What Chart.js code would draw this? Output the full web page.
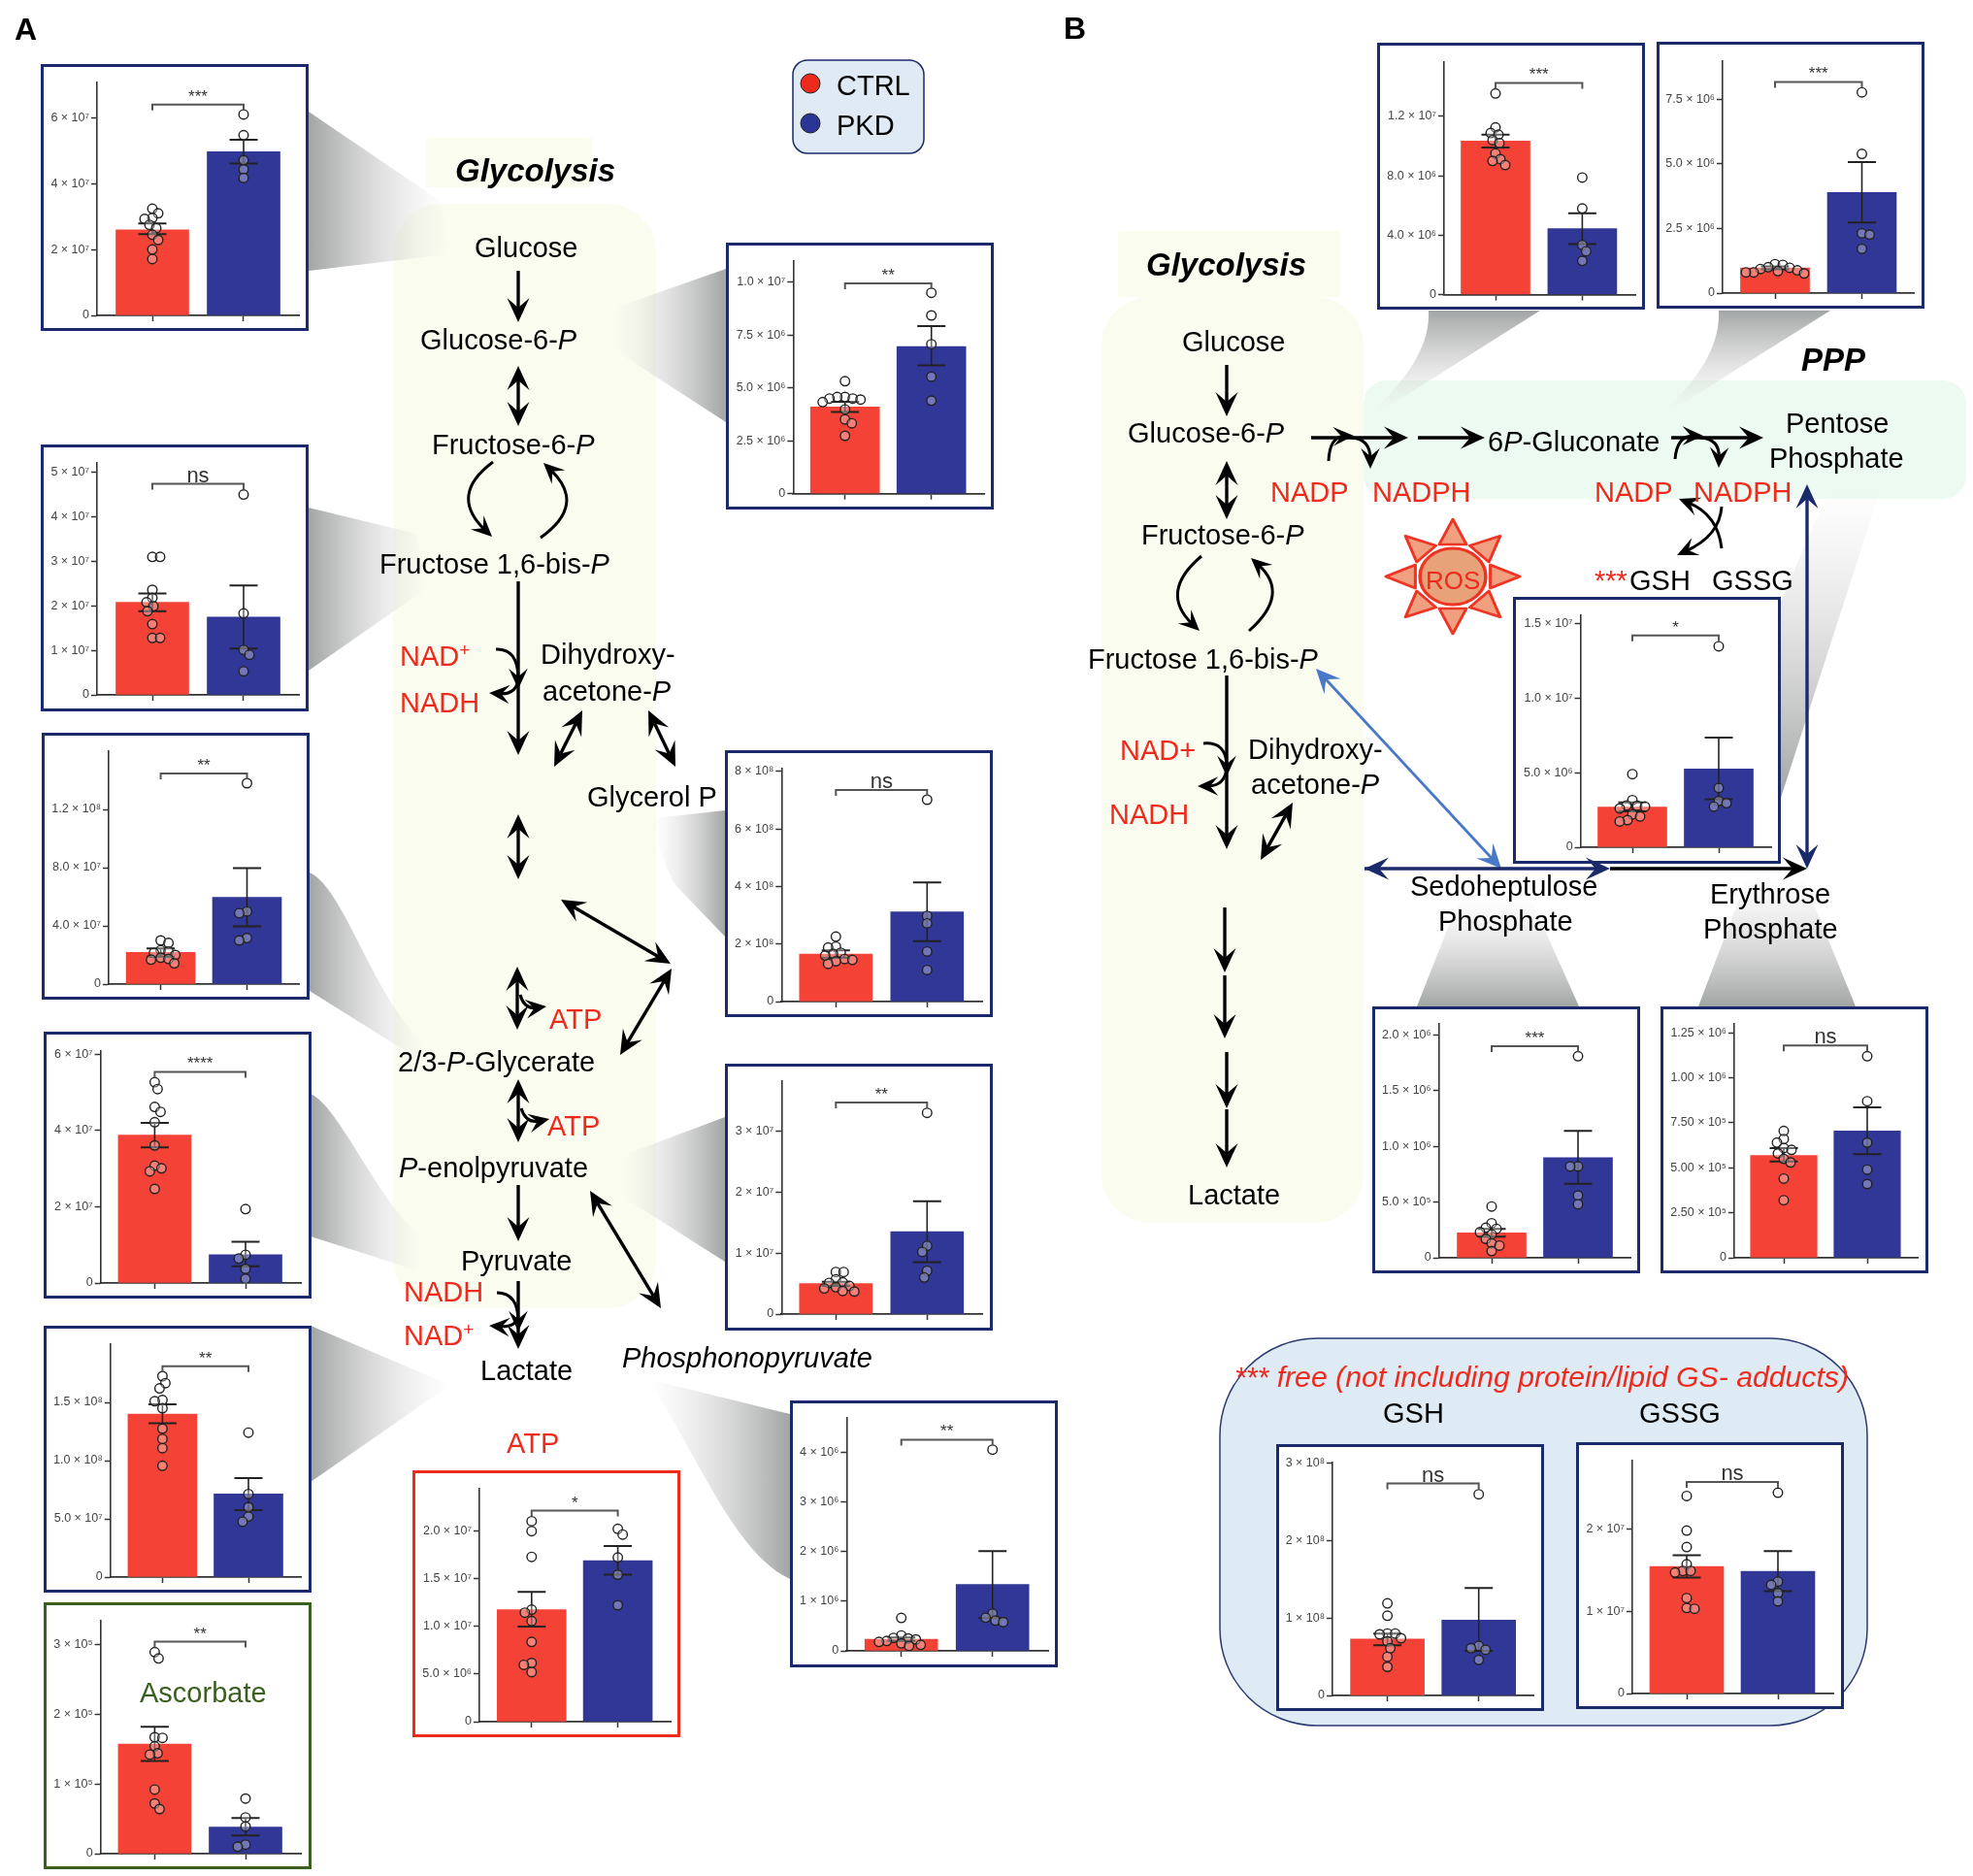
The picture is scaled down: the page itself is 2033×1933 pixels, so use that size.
<!DOCTYPE html>
<html>
<head>
<meta charset="utf-8">
<title>Glycolysis and PPP metabolites</title>
<script src="https://cdn.jsdelivr.net/npm/chart.js@4"></script>
<style>
  html, body { margin: 0; padding: 0; background: #fff; }
  #page { position: relative; width: 2033px; height: 1933px; overflow: hidden; font-family: "Liberation Sans", Arial, sans-serif; }
  #page svg { position: absolute; left: 0; top: 0; }
  #front { z-index: 5; pointer-events: none; }
  .frame { position: absolute; box-sizing: border-box; width: 276px; height: 275px; background: #fff; border: 3px solid #1b2a6b; z-index: 2; }
  canvas { position: absolute; z-index: 3; }
</style>
</head>
<body>
<div id="page">
  <svg id="back" width="2033" height="1933"></svg>
  <svg id="front" width="2033" height="1933"></svg>
</div>
<script>
'use strict';

// DATA

const groups = ['CTRL', 'PKD'];

const glucoseCtrl = [3.24e7, 3.1e7, 2.96e7, 2.93e7, 2.75e7, 2.65e7, 2.45e7, 2.29e7, 2.0e7, 1.71e7];
const glucosePkd = [6.1e7, 5.47e7, 4.71e7, 4.43e7, 4.17e7];
const glucoseMeans = [2.6e7, 4.97e7];
const glucoseErr = [[2.47e7, 2.79e7], [4.61e7, 5.33e7]];
const glucoseTicks = [0, 2e7, 4e7, 6e7];
const glucoseLabels = ['0', '2 × 10⁷', '4 × 10⁷', '6 × 10⁷'];

const fbpCtrl = [3.1e7, 3.1e7, 2.36e7, 2.18e7, 2.08e7, 1.99e7, 1.88e7, 1.59e7, 1.28e7, 1.28e7];
const fbpPkd = [4.5e7, 1.83e7, 1.01e7, 0.9e7, 0.53e7];
const fbpMeans = [2.08e7, 1.75e7];
const fbpErr = [[1.88e7, 2.28e7], [1.04e7, 2.46e7]];
const fbpTicks = [0, 1e7, 2e7, 3e7, 4e7, 5e7];
const fbpLabels = ['0', '1 × 10⁷', '2 × 10⁷', '3 × 10⁷', '4 × 10⁷', '5 × 10⁷'];

const pgCtrl = [3.0e7, 2.83e7, 2.32e7, 2.24e7, 2.14e7, 2.0e7, 1.81e7, 1.73e7, 1.68e7, 1.43e7];
const pgPkd = [13.8e7, 4.99e7, 4.87e7, 3.16e7, 3.0e7];
const pgMeans = [2.17e7, 5.96e7];
const pgErr = [[1.89e7, 2.45e7], [3.97e7, 7.97e7]];
const pgTicks = [0, 4e7, 8e7, 1.2e8];
const pgLabels = ['0', '4.0 × 10⁷', '8.0 × 10⁷', '1.2 × 10⁸'];

const pyruvateCtrl = [5.27e7, 5.09e7, 4.62e7, 4.49e7, 4.22e7, 3.61e7, 3.08e7, 3.01e7, 2.93e7, 2.47e7];
const pyruvatePkd = [1.94e7, 0.74e7, 0.64e7, 0.37e7, 0.11e7];
const pyruvateMeans = [3.88e7, 0.74e7];
const pyruvateErr = [[3.56e7, 4.2e7], [0.44e7, 1.08e7]];
const pyruvateTicks = [0, 2e7, 4e7, 6e7];
const pyruvateLabels = ['0', '2 × 10⁷', '4 × 10⁷', '6 × 10⁷'];

const lactateCtrl = [17.25e7, 16.65e7, 16.2e7, 15.2e7, 15.1e7, 14.5e7, 12.75e7, 11.86e7, 11.07e7, 9.56e7];
const lactatePkd = [12.4e7, 7.13e7, 6.0e7, 5.2e7, 4.76e7];
const lactateMeans = [14.0e7, 7.13e7];
const lactateErr = [[13.2e7, 14.83e7], [5.74e7, 8.5e7]];
const lactateTicks = [0, 5e7, 1e8, 1.5e8];
const lactateLabels = ['0', '5.0 × 10⁷', '1.0 × 10⁸', '1.5 × 10⁸'];

const ascorbateCtrl = [2.89e5, 2.8e5, 1.67e5, 1.66e5, 1.54e5, 1.44e5, 1.42e5, 0.92e5, 0.72e5, 0.64e5];
const ascorbatePkd = [0.79e5, 0.52e5, 0.39e5, 0.13e5, 0.1e5];
const ascorbateMeans = [1.57e5, 0.38e5];
const ascorbateErr = [[1.33e5, 1.82e5], [0.26e5, 0.51e5]];
const ascorbateTicks = [0, 1e5, 2e5, 3e5];
const ascorbateLabels = ['0', '1 × 10⁵', '2 × 10⁵', '3 × 10⁵'];

const atpCtrl = [21.0e6, 19.96e6, 17.27e6, 11.73e6, 11.42e6, 10.54e6, 8.35e6, 6.15e6, 5.96e6, 5.19e6];
const atpPkd = [20.2e6, 19.6e6, 17.2e6, 15.4e6, 12.2e6];
const atpMeans = [11.73e6, 16.88e6];
const atpErr = [[9.96e6, 13.6e6], [15.4e6, 18.4e6]];
const atpTicks = [0, 5e6, 1e7, 1.5e7, 2e7];
const atpLabels = ['0', '5.0 × 10⁶', '1.0 × 10⁷', '1.5 × 10⁷', '2.0 × 10⁷'];

const g6pCtrl = [5.32e6, 4.57e6, 4.57e6, 4.5e6, 4.5e6, 4.45e6, 4.33e6, 3.98e6, 3.51e6, 3.33e6, 2.74e6];
const g6pPkd = [9.5e6, 8.43e6, 7.07e6, 5.53e6, 4.4e6];
const g6pMeans = [4.1e6, 6.96e6];
const g6pErr = [[3.86e6, 4.35e6], [6.07e6, 7.92e6]];
const g6pTicks = [0, 2.5e6, 5e6, 7.5e6, 1e7];
const g6pLabels = ['0', '2.5 × 10⁶', '5.0 × 10⁶', '7.5 × 10⁶', '1.0 × 10⁷'];

const glycerolCtrl = [2.26e8, 1.91e8, 1.88e8, 1.7e8, 1.66e8, 1.6e8, 1.48e8, 1.45e8, 1.4e8, 1.31e8];
const glycerolPkd = [7.02e8, 2.98e8, 2.72e8, 1.74e8, 1.1e8];
const glycerolMeans = [1.655e8, 3.12e8];
const glycerolErr = [[1.53e8, 1.78e8], [2.1e8, 4.14e8]];
const glycerolTicks = [0, 2e8, 4e8, 6e8, 8e8];
const glycerolLabels = ['0', '2 × 10⁸', '4 × 10⁸', '6 × 10⁸', '8 × 10⁸'];

const pepCtrl = [0.69e7, 0.69e7, 0.57e7, 0.52e7, 0.51e7, 0.46e7, 0.44e7, 0.42e7, 0.38e7, 0.37e7];
const pepPkd = [3.3e7, 1.12e7, 1.02e7, 0.71e7, 0.6e7];
const pepMeans = [0.5e7, 1.35e7];
const pepErr = [[0.46e7, 0.53e7], [0.85e7, 1.85e7]];
const pepTicks = [0, 1e7, 2e7, 3e7];
const pepLabels = ['0', '1 × 10⁷', '2 × 10⁷', '3 × 10⁷'];

const phosphonoCtrl = [0.665e6, 0.31e6, 0.26e6, 0.25e6, 0.23e6, 0.2e6, 0.18e6, 0.15e6, 0.12e6, 0.1e6];
const phosphonoPkd = [4.06e6, 0.75e6, 0.67e6, 0.61e6, 0.58e6];
const phosphonoMeans = [0.234e6, 1.34e6];
const phosphonoErr = [[0.2e6, 0.27e6], [0.66e6, 2.01e6]];
const phosphonoTicks = [0, 1e6, 2e6, 3e6, 4e6];
const phosphonoLabels = ['0', '1 × 10⁶', '2 × 10⁶', '3 × 10⁶', '4 × 10⁶'];

const gluconateCtrl = [13.54e6, 11.25e6, 10.88e6, 10.76e6, 10.4e6, 10.2e6, 9.5e6, 9.12e6, 9.0e6, 8.72e6];
const gluconatePkd = [7.88e6, 5.8e6, 3.34e6, 2.92e6, 2.27e6];
const gluconateMeans = [10.34e6, 4.45e6];
const gluconateErr = [[9.9e6, 10.76e6], [3.4e6, 5.47e6]];
const gluconateTicks = [0, 4e6, 8e6, 1.2e7];
const gluconateLabels = ['0', '4.0 × 10⁶', '8.0 × 10⁶', '1.2 × 10⁷'];

const ribuloseCtrl = [1.12e6, 1.09e6, 1.0e6, 0.98e6, 0.93e6, 0.88e6, 0.85e6, 0.8e6, 0.8e6, 0.76e6];
const ribulosePkd = [7.76e6, 5.38e6, 2.31e6, 2.26e6, 1.71e6];
const ribuloseMeans = [0.975e6, 3.89e6];
const ribuloseErr = [[0.92e6, 1.03e6], [2.73e6, 5.06e6]];
const ribuloseTicks = [0, 2.5e6, 5e6, 7.5e6];
const ribuloseLabels = ['0', '2.5 × 10⁶', '5.0 × 10⁶', '7.5 × 10⁶'];

const pentoseCtrl = [4.9e6, 3.16e6, 2.8e6, 2.78e6, 2.72e6, 2.6e6, 2.2e6, 2.06e6, 1.82e6, 1.73e6];
const pentosePkd = [13.46e6, 3.97e6, 3.1e6, 2.95e6, 2.72e6];
const pentoseMeans = [2.69e6, 5.25e6];
const pentoseErr = [[2.4e6, 3.0e6], [3.22e6, 7.34e6]];
const pentoseTicks = [0, 5e6, 1e7, 1.5e7];
const pentoseLabels = ['0', '5.0 × 10⁶', '1.0 × 10⁷', '1.5 × 10⁷'];

const sedoCtrl = [0.46e6, 0.31e6, 0.27e6, 0.26e6, 0.23e6, 0.21e6, 0.17e6, 0.13e6, 0.11e6, 0.06e6];
const sedoPkd = [1.81e6, 0.82e6, 0.82e6, 0.56e6, 0.48e6];
const sedoMeans = [0.224e6, 0.898e6];
const sedoErr = [[0.19e6, 0.26e6], [0.665e6, 1.14e6]];
const sedoTicks = [0, 5e5, 1e6, 1.5e6, 2e6];
const sedoLabels = ['0', '5.0 × 10⁵', '1.0 × 10⁶', '1.5 × 10⁶', '2.0 × 10⁶'];

const erythroseCtrl = [0.705e6, 0.66e6, 0.64e6, 0.61e6, 0.6e6, 0.58e6, 0.55e6, 0.53e6, 0.44e6, 0.32e6];
const erythrosePkd = [1.12e6, 0.87e6, 0.64e6, 0.49e6, 0.41e6];
const erythroseMeans = [0.568e6, 0.705e6];
const erythroseErr = [[0.535e6, 0.61e6], [0.576e6, 0.836e6]];
const erythroseTicks = [0, 2.5e5, 5e5, 7.5e5, 1e6, 1.25e6];
const erythroseLabels = ['0', '2.50 × 10⁵', '5.00 × 10⁵', '7.50 × 10⁵', '1.00 × 10⁶', '1.25 × 10⁶'];

const gshCtrl = [1.19e8, 1.03e8, 0.8e8, 0.8e8, 0.79e8, 0.74e8, 0.7e8, 0.61e8, 0.5e8, 0.37e8];
const gshPkd = [2.6e8, 0.64e8, 0.61e8, 0.59e8, 0.46e8];
const gshMeans = [0.728e8, 0.975e8];
const gshErr = [[0.65e8, 0.8e8], [0.577e8, 1.39e8]];
const gshTicks = [0, 1e8, 2e8, 3e8];
const gshLabels = ['0', '1 × 10⁸', '2 × 10⁸', '3 × 10⁸'];

const gssgCtrl = [2.4e7, 1.98e7, 1.78e7, 1.57e7, 1.49e7, 1.49e7, 1.47e7, 1.16e7, 1.04e7, 1.03e7];
const gssgPkd = [2.44e7, 1.36e7, 1.32e7, 1.22e7, 1.12e7];
const gssgMeans = [1.544e7, 1.485e7];
const gssgErr = [[1.41e7, 1.68e7], [1.245e7, 1.73e7]];
const gssgTicks = [0, 1e7, 2e7];
const gssgLabels = ['0', '1 × 10⁷', '2 × 10⁷'];

// PANELS - where each small chart sits on the page

const navy = '#1b2a6b';
const red = '#ee2a1c';
const panels = [
  { x: 42, y: 66, spine: 58, top: 19, zero: 259, right: 266, c1: 115, c2: 209, bar: 75, yMax: 7.07e7, ctrl: glucoseCtrl, pkd: glucosePkd, means: glucoseMeans, err: glucoseErr, ticks: glucoseTicks, labels: glucoseLabels, bracket: 6.4e7, sig: '***' },
  { x: 42, y: 458, spine: 58, top: 19, zero: 258, right: 266, c1: 115, c2: 209, bar: 75, yMax: 5.21e7, ctrl: fbpCtrl, pkd: fbpPkd, means: fbpMeans, err: fbpErr, ticks: fbpTicks, labels: fbpLabels, bracket: 4.74e7, sig: 'ns' },
  { x: 43, y: 755, spine: 69, top: 19, zero: 259, right: 265, c1: 122.6, c2: 211.5, bar: 71, yMax: 1.6e8, ctrl: pgCtrl, pkd: pgPkd, means: pgMeans, err: pgErr, ticks: pgTicks, labels: pgLabels, bracket: 14.47e7, sig: '**' },
  { x: 45, y: 1063, spine: 58.6, top: 19.5, zero: 259, right: 265, c1: 114.4, c2: 208, bar: 75, yMax: 6.1e7, ctrl: pyruvateCtrl, pkd: pyruvatePkd, means: pyruvateMeans, err: pyruvateErr, ticks: pyruvateTicks, labels: pyruvateLabels, bracket: 5.54e7, sig: '****' },
  { x: 45, y: 1366, spine: 68.8, top: 19, zero: 259, right: 265, c1: 122.4, c2: 211, bar: 71, yMax: 2e8, ctrl: lactateCtrl, pkd: lactatePkd, means: lactateMeans, err: lactateErr, ticks: lactateTicks, labels: lactateLabels, bracket: 18.1e7, sig: '**' },
  { x: 45, y: 1651, spine: 58.6, top: 19, zero: 259, right: 265, c1: 114.4, c2: 208, bar: 75, yMax: 3.34e5, ctrl: ascorbateCtrl, pkd: ascorbatePkd, means: ascorbateMeans, err: ascorbateErr, ticks: ascorbateTicks, labels: ascorbateLabels, bracket: 3.04e5, sig: '**', border: '#3a5f1e' },
  { x: 425, y: 1515, spine: 69, top: 19, zero: 259, right: 266, c1: 122.8, c2: 211.6, bar: 71, yMax: 2.44e7, ctrl: atpCtrl, pkd: atpPkd, means: atpMeans, err: atpErr, ticks: atpTicks, labels: atpLabels, bracket: 2.21e7, sig: '*', border: red },
  { x: 748, y: 250, spine: 69.3, top: 19, zero: 258.7, right: 266, c1: 122.7, c2: 211.7, bar: 71, yMax: 1.1e7, ctrl: g6pCtrl, pkd: g6pPkd, means: g6pMeans, err: g6pErr, ticks: g6pTicks, labels: g6pLabels, bracket: 9.95e6, sig: '**' },
  { x: 747, y: 773, spine: 58.3, top: 19, zero: 259, right: 265.7, c1: 114.3, c2: 208.3, bar: 75, yMax: 8.1e8, ctrl: glycerolCtrl, pkd: glycerolPkd, means: glycerolMeans, err: glycerolErr, ticks: glycerolTicks, labels: glycerolLabels, bracket: 7.36e8, sig: 'ns' },
  { x: 747, y: 1096, spine: 58.3, top: 18, zero: 258, right: 265.7, c1: 114.3, c2: 208.3, bar: 75, yMax: 3.82e7, ctrl: pepCtrl, pkd: pepPkd, means: pepMeans, err: pepErr, ticks: pepTicks, labels: pepLabels, bracket: 3.47e7, sig: '**' },
  { x: 814, y: 1443, spine: 58.3, top: 18, zero: 258, right: 266, c1: 114.7, c2: 208.7, bar: 75, yMax: 4.7e6, ctrl: phosphonoCtrl, pkd: phosphonoPkd, means: phosphonoMeans, err: phosphonoErr, ticks: phosphonoTicks, labels: phosphonoLabels, bracket: 4.26e6, sig: '**' },
  { x: 1419, y: 44, spine: 69, top: 19.7, zero: 259.6, right: 266, c1: 122, c2: 211.4, bar: 71, yMax: 1.567e7, ctrl: gluconateCtrl, pkd: gluconatePkd, means: gluconateMeans, err: gluconateErr, ticks: gluconateTicks, labels: gluconateLabels, bracket: 1.425e7, sig: '***' },
  { x: 1707, y: 43, spine: 68, top: 19.9, zero: 259, right: 265, c1: 122, c2: 211.5, bar: 71, yMax: 8.97e6, ctrl: ribuloseCtrl, pkd: ribulosePkd, means: ribuloseMeans, err: ribuloseErr, ticks: ribuloseTicks, labels: ribuloseLabels, bracket: 8.16e6, sig: '***' },
  { x: 1559, y: 615, spine: 69.6, top: 18.8, zero: 258, right: 266, c1: 123, c2: 212, bar: 71, yMax: 1.555e7, ctrl: pentoseCtrl, pkd: pentosePkd, means: pentoseMeans, err: pentoseErr, ticks: pentoseTicks, labels: pentoseLabels, bracket: 1.418e7, sig: '*' },
  { x: 1414, y: 1037, spine: 68.7, top: 18, zero: 259, right: 266, c1: 123, c2: 212, bar: 71, yMax: 2.1e6, ctrl: sedoCtrl, pkd: sedoPkd, means: sedoMeans, err: sedoErr, ticks: sedoTicks, labels: sedoLabels, bracket: 1.9e6, sig: '***' },
  { x: 1711, y: 1037, spine: 76, top: 18, zero: 259, right: 265, c1: 127, c2: 213, bar: 68.5, yMax: 1.3e6, ctrl: erythroseCtrl, pkd: erythrosePkd, means: erythroseMeans, err: erythroseErr, ticks: erythroseTicks, labels: erythroseLabels, bracket: 1.18e6, sig: 'ns' },
  { x: 1315, y: 1488, spine: 58, top: 19, zero: 259, right: 265, c1: 114.6, c2: 208.7, bar: 76, yMax: 3.01e8, ctrl: gshCtrl, pkd: gshPkd, means: gshMeans, err: gshErr, ticks: gshTicks, labels: gshLabels, bracket: 2.74e8, sig: 'ns' },
  { x: 1624, y: 1486, spine: 58, top: 19, zero: 259, right: 265, c1: 114, c2: 208, bar: 76, yMax: 2.83e7, ctrl: gssgCtrl, pkd: gssgPkd, means: gssgMeans, err: gssgErr, ticks: gssgTicks, labels: gssgLabels, bracket: 2.57e7, sig: 'ns' }
];

// beeswarm: push a point sideways until it stops sitting on the ones already placed
function swarm(values, group, pxPerValue, pxPerX) {
  const minDist = 7.5;
  const placed = [];
  const sorted = values.slice().sort(function(a, b) { return b - a; });
  sorted.forEach(function(v, i) {
    const py = v * pxPerValue;
    const dir = i % 2 === 0 ? 1 : -1;
    let dx = 0;
    for (let step = 0; step < 60; step++) {
      const tryDx = dir * (step % 2 === 0 ? step / 2 : -(step + 1) / 2);
      const hit = placed.some(function(p) {
        return Math.hypot(p.dx - tryDx, p.py - py) < minDist;
      });
      if (!hit) { dx = tryDx; break; }
    }
    placed.push({ dx: dx, py: py, value: v });
  });
  return placed.map(function(p) {
    return { x: group + p.dx / pxPerX, y: p.value };
  });
}

// error bars go right after the bars, the bracket on top of everything
const panelMarks = {
  id: 'panelMarks',
  afterDatasetDraw: function(chart, args, opts) {
    if (args.index !== 0) return;
    const ctx = chart.ctx;
    const xs = chart.scales.x;
    const ys = chart.scales.y;
    ctx.save();
    ctx.strokeStyle = '#222';
    opts.err.forEach(function(e, i) {
      const px = xs.getPixelForValue(i + 1);
      const lo = ys.getPixelForValue(e[0]);
      const hi = ys.getPixelForValue(e[1]);
      ctx.lineWidth = 1.6;
      ctx.beginPath();
      ctx.moveTo(px, lo);
      ctx.lineTo(px, hi);
      ctx.stroke();
      ctx.lineWidth = 2;
      ctx.beginPath();
      ctx.moveTo(px - 14.5, lo);
      ctx.lineTo(px + 14.5, lo);
      ctx.moveTo(px - 14.5, hi);
      ctx.lineTo(px + 14.5, hi);
      ctx.stroke();
    });
    ctx.restore();
  },
  afterDraw: function(chart, args, opts) {
    const ctx = chart.ctx;
    const x1 = chart.scales.x.getPixelForValue(1);
    const x2 = chart.scales.x.getPixelForValue(2);
    const by = chart.scales.y.getPixelForValue(opts.bracket);
    ctx.save();
    ctx.strokeStyle = '#555';
    ctx.lineWidth = 2;
    ctx.beginPath();
    ctx.moveTo(x1, by + 6);
    ctx.lineTo(x1, by);
    ctx.lineTo(x2, by);
    ctx.lineTo(x2, by + 6);
    ctx.stroke();
    ctx.fillStyle = '#333';
    ctx.textAlign = 'center';
    ctx.textBaseline = 'alphabetic';
    if (opts.sig === 'ns') {
      ctx.font = '22px "Liberation Sans"';
      ctx.fillText('ns', (x1 + x2) / 2, by - 2);
    } else {
      ctx.font = '17px "Liberation Sans"';
      ctx.fillText(opts.sig, (x1 + x2) / 2, by - 3);
    }
    ctx.restore();
  }
};
Chart.register(panelMarks);

const page = document.getElementById('page');

function drawPanel(p) {
  const frame = document.createElement('div');
  frame.className = 'frame';
  frame.style.left = p.x + 'px';
  frame.style.top = p.y + 'px';
  frame.style.borderColor = p.border || navy;
  page.appendChild(frame);

  const canvas = document.createElement('canvas');
  canvas.width = 276;
  canvas.height = 275;
  canvas.style.left = p.x + 'px';
  canvas.style.top = p.y + 'px';
  page.appendChild(canvas);

  const unit = p.c2 - p.c1;
  const xMin = 1 - (p.c1 - p.spine) / unit;
  const xMax = xMin + (p.right - p.spine) / unit;
  const pxPerValue = (p.zero - p.top) / p.yMax;
  const points = swarm(p.ctrl, 1, pxPerValue, unit).concat(swarm(p.pkd, 2, pxPerValue, unit));

  new Chart(canvas.getContext('2d'), {
    type: 'bar',
    data: {
      datasets: [
        {
          type: 'bar',
          label: 'mean',
          order: 2,
          data: p.means.map(function(m, i) { return { x: i + 1, y: m, group: groups[i] }; }),
          backgroundColor: ['#f44336', '#303796'],
          barThickness: p.bar
        },
        {
          type: 'scatter',
          label: 'samples',
          order: 1,
          data: points,
          pointRadius: 4.8,
          pointBorderWidth: 1.4,
          pointBackgroundColor: 'rgba(255,255,255,0.32)',
          pointBorderColor: '#222'
        }
      ]
    },
    options: {
      responsive: false,
      animation: false,
      events: [],
      layout: { padding: { top: p.top, right: 276 - p.right, left: 0, bottom: 0 } },
      plugins: {
        legend: { display: false },
        tooltip: { enabled: false },
        panelMarks: { err: p.err, bracket: p.bracket, sig: p.sig }
      },
      scales: {
        x: {
          type: 'linear',
          offset: false,
          min: xMin,
          max: xMax,
          afterBuildTicks: function(s) { s.ticks = [{ value: 1 }, { value: 2 }]; },
          afterFit: function(s) { s.height = 275 - p.zero; },
          ticks: { display: false },
          grid: { offset: false, drawOnChartArea: false, drawTicks: true, tickLength: 6, tickColor: '#333', tickWidth: 1.5 },
          border: { color: '#333', width: 1.8 }
        },
        y: {
          type: 'linear',
          min: 0,
          max: p.yMax,
          afterBuildTicks: function(s) { s.ticks = p.ticks.map(function(t) { return { value: t }; }); },
          afterFit: function(s) { s.width = p.spine; },
          ticks: {
            autoSkip: false,
            padding: 2,
            color: '#444',
            font: { family: '"Liberation Sans"', size: 12.5 },
            callback: function(v, i) { return p.labels[i]; }
          },
          grid: { drawOnChartArea: false, drawTicks: true, tickLength: 6, tickColor: '#333', tickWidth: 1.5 },
          border: { color: '#333', width: 1.6 }
        }
      }
    }
  });
}

panels.forEach(drawPanel);

// BACKGROUND SHAPES AND CALLOUTS

let defs = '';
let backShapes = '';
let gradId = 0;

function rect(x, y, w, h, r, fill, stroke) {
  backShapes += '<rect x="' + x + '" y="' + y + '" width="' + w + '" height="' + h + '" rx="' + r + '" fill="' + fill + '"' +
    (stroke ? ' stroke="' + stroke + '" stroke-width="1.5"' : '') + '/>';
}

// wedge running from a chart box towards its metabolite, fading out on the way
function wedge(d, x1, y1, x2, y2) {
  gradId++;
  defs += '<linearGradient id="w' + gradId + '" gradientUnits="userSpaceOnUse" x1="' + x1 + '" y1="' + y1 + '" x2="' + x2 + '" y2="' + y2 + '">' +
    '<stop offset="0" stop-color="#a2a5a5"/><stop offset="1" stop-color="#d8d9d5" stop-opacity="0"/></linearGradient>';
  backShapes += '<path d="' + d + '" fill="url(#w' + gradId + ')"/>';
}

rect(439, 142, 171, 51, 0, '#fbfcf0');
rect(405, 210, 271, 1138, 50, '#fbfcf0');
rect(1152, 238, 229, 68, 0, '#fbfcf0');
rect(1405, 392, 621, 122, 24, '#edfaf2');
rect(1135, 306, 270, 954, 50, '#fbfcf0');
rect(1257, 1379, 667, 399, 100, '#deebf5', '#2a3a70');
rect(817, 62, 135, 96, 15, '#dfeaf5', navy);
backShapes += '<circle cx="835" cy="86" r="10" fill="#ee2a1c" stroke="#222"/>';
backShapes += '<circle cx="835" cy="127" r="10" fill="#2b3596" stroke="#222"/>';

// panel A
wedge('M318,115 L455,208 L462,262 L318,279 Z', 318, 0, 462, 0);
wedge('M318,523 L429,550 L440,606 L318,691 Z', 318, 0, 440, 0);
wedge('M319,899 C355,915 385,1030 437,1075 L437,1095 L319,1021 Z', 319, 0, 437, 0);
wedge('M320,1127 C350,1140 390,1240 433,1272 L433,1310 L320,1274 Z', 320, 0, 433, 0);
wedge('M320,1366 L464,1427 L320,1527 Z', 320, 0, 464, 0);
wedge('M748,277 L634,317 L634,361 L748,435 Z', 748, 0, 634, 0);
wedge('M747,835 L674,843 C676,870 686,895 696,912 L747,965 Z', 747, 0, 674, 0);
wedge('M747,1151 L643,1190 L643,1234 L747,1300 Z', 747, 0, 643, 0);
wedge('M814,1457 L667,1421 C715,1490 755,1600 814,1627 Z', 814, 0, 667, 0);
// panel B
wedge('M1472,320 C1474,360 1445,395 1413,425 L1421,425 L1587,320 Z', 0, 320, 0, 425);
wedge('M1771,320 C1773,360 1745,395 1716,423 L1722,423 L1886,320 Z', 0, 320, 0, 423);
wedge('M1835,822 L1835,620 L1886,500 L1939,500 Z', 0, 822, 0, 500);
wedge('M1460,1037 L1505,923 L1576,923 L1627,1037 Z', 0, 1037, 0, 923);
wedge('M1750,1037 L1802,900 L1856,900 L1912,1037 Z', 0, 1037, 0, 900);

document.getElementById('back').innerHTML = '<defs>' + defs + '</defs>' + backShapes;

// ARROWS AND LABELS

let front = '';

function head(x, y, angle, color, s) {
  return '<path d="M0,0 L' + (-25 * s) + ',' + (-11.5 * s) + ' L' + (-15 * s) + ',0 L' + (-25 * s) + ',' + (11.5 * s) + ' Z" fill="' + color +
    '" transform="translate(' + x + ',' + y + ') rotate(' + (angle * 180 / Math.PI) + ')"/>';
}

function arrow(x1, y1, x2, y2, both, color, w) {
  color = color || '#000';
  w = w || 3.4;
  const a = Math.atan2(y2 - y1, x2 - x1);
  const sx = both ? x1 + Math.cos(a) * 15 : x1;
  const sy = both ? y1 + Math.sin(a) * 15 : y1;
  front += '<line x1="' + sx + '" y1="' + sy + '" x2="' + (x2 - Math.cos(a) * 15) + '" y2="' + (y2 - Math.sin(a) * 15) + '" stroke="' + color + '" stroke-width="' + w + '"/>';
  front += head(x2, y2, a, color, 1);
  if (both) front += head(x1, y1, a + Math.PI, color, 1);
}

function curve(x1, y1, cx, cy, x2, y2, s) {
  s = s || 0.85;
  const a = Math.atan2(y2 - cy, x2 - cx);
  front += '<path d="M' + x1 + ',' + y1 + ' Q' + cx + ',' + cy + ' ' + (x2 - Math.cos(a) * 12 * s) + ',' + (y2 - Math.sin(a) * 12 * s) + '" fill="none" stroke="#000" stroke-width="3"/>';
  front += head(x2, y2, a, '#000', s);
}

function label(x, y, html, opts) {
  opts = opts || {};
  front += '<text x="' + x + '" y="' + y + '" font-family="Liberation Sans" font-size="' + (opts.size || 29) + '" fill="' + (opts.color || '#000') + '"' +
    (opts.bold ? ' font-weight="bold"' : '') + (opts.italic ? ' font-style="italic"' : '') +
    (opts.length ? ' textLength="' + opts.length + '" lengthAdjust="spacingAndGlyphs"' : '') + '>' + html + '</text>';
}

const P = '<tspan font-style="italic">P</tspan>';
const plus = '<tspan font-size="19" dy="-10">+</tspan>';

// panel A pathway
arrow(534, 279, 534, 332);
arrow(534, 377, 534, 439, true);
curve(508, 476, 462, 510, 507, 553);
curve(557, 554, 605, 520, 560, 477);
arrow(534, 599, 534, 778);
curve(511, 669, 534, 668, 534, 710);
curve(534, 700, 532, 716, 504, 714);
arrow(600, 732, 571, 790, true);
arrow(668, 732, 696, 790, true);
arrow(534, 839, 534, 906, true);
arrow(578, 927, 691, 993, true);
arrow(692, 998, 639, 1087, true);
arrow(533, 996, 533, 1061, true);
curve(536, 1025, 540, 1040, 563, 1037);
arrow(534, 1112, 534, 1177, true);
curve(537, 1142, 542, 1158, 566, 1153);
arrow(534, 1221, 534, 1279);
arrow(608, 1227, 681, 1348, true);
arrow(534, 1320, 534, 1390);
curve(512, 1332, 534, 1332, 534, 1372);
curve(534, 1356, 532, 1368, 504, 1366);

label(15, 41, 'A', { size: 32, bold: true });
label(469, 187, 'Glycolysis', { size: 33, bold: true, italic: true });
label(862, 98, 'CTRL');
label(862, 139, 'PKD');
label(489, 265, 'Glucose');
label(433, 360, 'Glucose-6-' + P);
label(445, 468, 'Fructose-6-' + P);
label(391, 591, 'Fructose 1,6-bis-' + P);
label(412, 686, 'NAD' + plus, { color: red });
label(412, 734, 'NADH', { color: red });
label(557, 684, 'Dihydroxy-');
label(559, 722, 'acetone-' + P);
label(605, 831, 'Glycerol P');
label(566, 1060, 'ATP', { color: red });
label(410, 1104, '2/3-' + P + '-Glycerate');
label(564, 1170, 'ATP', { color: red });
label(411, 1213, P + '-enolpyruvate');
label(475, 1309, 'Pyruvate');
label(416, 1341, 'NADH', { color: red });
label(416, 1386, 'NAD' + plus, { color: red });
label(495, 1422, 'Lactate');
label(641, 1409, 'Phosphonopyruvate', { italic: true });
label(522, 1497, 'ATP', { color: red });
label(144, 1754, 'Ascorbate', { color: '#3a5f1e' });

// panel B pathway
arrow(1264, 376, 1264, 429);
arrow(1264, 475, 1264, 535, true);
curve(1238, 573, 1194, 610, 1236, 650);
curve(1287, 650, 1330, 612, 1289, 575);
arrow(1264, 696, 1264, 875);
curve(1240, 766, 1264, 764, 1264, 800);
curve(1264, 790, 1263, 810, 1234, 810);
arrow(1332, 827, 1299, 886, true);
arrow(1262, 935, 1262, 1002);
arrow(1262, 1005, 1262, 1070);
arrow(1264, 1084, 1264, 1142);
arrow(1264, 1143, 1264, 1203);
arrow(1351, 451, 1451, 451);
curve(1369, 475, 1370, 450, 1395, 449);
curve(1392, 451, 1412, 452, 1412, 483);
arrow(1461, 451, 1530, 451);
arrow(1722, 451, 1817, 451);
curve(1726, 473, 1728, 449, 1755, 449);
curve(1752, 451, 1772, 452, 1771, 482);
curve(1774, 522, 1772, 552, 1728, 572);
curve(1774, 565, 1770, 530, 1730, 514);

arrow(1547, 895, 1356, 689, true, '#4a78c8', 2.8);
arrow(1862, 499, 1862, 895, true, navy, 3.4);
arrow(1406, 895, 1659, 895, false, navy, 3.4);
arrow(1659, 895, 1862, 895, false, '#000', 3.4);
front += head(1406, 895, Math.PI, navy, 1);

label(1096, 40, 'B', { size: 32, bold: true });
label(1181, 284, 'Glycolysis', { size: 33, bold: true, italic: true });
label(1856, 382, 'PPP', { size: 33, bold: true, italic: true });
label(1218, 362, 'Glucose');
label(1162, 456, 'Glucose-6-' + P);
label(1176, 561, 'Fructose-6-' + P);
label(1121, 689, 'Fructose 1,6-bis-' + P);
label(1309, 517, 'NADP', { color: red });
label(1414, 517, 'NADPH', { color: red });
label(1533, 465, '6' + P + '-Gluconate');
label(1840, 446, 'Pentose');
label(1823, 482, 'Phosphate');
label(1643, 517, 'NADP', { color: red });
label(1745, 517, 'NADPH', { color: red });
label(1643, 608, '***', { color: red });
label(1679, 608, 'GSH');
label(1764, 608, 'GSSG');
label(1154, 783, 'NAD+', { color: red });
label(1143, 849, 'NADH', { color: red });
label(1286, 782, 'Dihydroxy-');
label(1289, 818, 'acetone-' + P);
label(1453, 923, 'Sedoheptulose');
label(1482, 959, 'Phosphate');
label(1762, 931, 'Erythrose');
label(1755, 967, 'Phosphate');
label(1224, 1241, 'Lactate');
label(1272, 1429, '*** free (not including protein/lipid GS- adducts)', { color: red, italic: true, length: 633 });
label(1425, 1466, 'GSH');
label(1689, 1466, 'GSSG');

// ROS sun
let sun = '<g transform="translate(1497,594) scale(1.17,1)">';
for (let i = 0; i < 8; i++) {
  sun += '<path d="M0,-59 L12,-33 L-12,-33 Z" transform="rotate(' + (i * 45) + ')" fill="#f0a080" stroke="#ee3524" stroke-width="2.6" stroke-linejoin="round"/>';
}
sun += '<circle r="29" fill="#e8a27a" stroke="#ee3524" stroke-width="3"/></g>';
front += sun;
label(1469, 607, 'ROS', { color: red, size: 26 });

document.getElementById('front').innerHTML = front;
</script>
</body>
</html>
